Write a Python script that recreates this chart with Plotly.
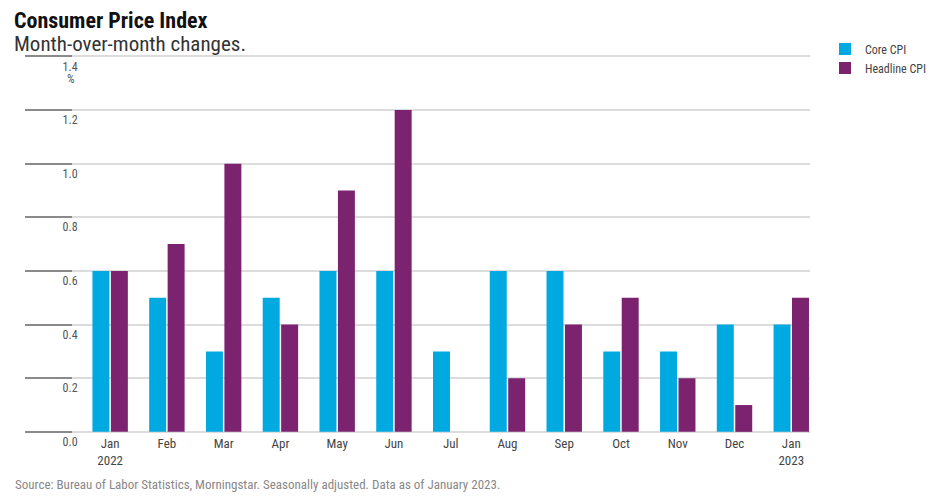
import plotly.graph_objects as go

months = ["Jan", "Feb", "Mar", "Apr", "May", "Jun", "Jul", "Aug", "Sep", "Oct", "Nov", "Dec", "Jan"]
month_labels = ["Jan<br>2022", "Feb", "Mar", "Apr", "May", "Jun", "Jul", "Aug", "Sep", "Oct", "Nov", "Dec", "Jan<br>2023"]
core_cpi = [0.6, 0.5, 0.3, 0.5, 0.6, 0.6, 0.3, 0.6, 0.6, 0.3, 0.3, 0.4, 0.4]
headline_cpi = [0.6, 0.7, 1.0, 0.4, 0.9, 1.2, 0.0, 0.2, 0.4, 0.5, 0.2, 0.1, 0.5]
y_ticks = [0.0, 0.2, 0.4, 0.6, 0.8, 1.0, 1.2, 1.4]
y_ticktext = ["0.0", "0.2", "0.4", "0.6", "0.8", "1.0", "1.2", "1.4"]
y_unit = "%"

FONT = "Liberation Sans Narrow, Roboto Condensed, Roboto, sans-serif"
# page body has an 8px margin; figure coords = window coords - 8
W, H = 918, 488
Y0, Y1 = -0.09, 1.42
scale = 376 / 1.4
L = 17
R = W - 802
T = 48 - (Y1 - 1.4) * scale
B = H - (424 + (0 - Y0) * scale)
pw = W - L - R
ph = H - T - B

def px_x(x):
    return (x - L) / pw

def px_y(y):
    return (H - B - y) / ph

x = list(range(len(months)))

fig = go.Figure()
fig.add_trace(go.Bar(x=x, y=core_cpi, name="Core CPI", marker_color="#00a9e0",
                     marker_line_width=0))
fig.add_trace(go.Bar(x=x, y=headline_cpi, name="Headline CPI", marker_color="#7c2370",
                     marker_line_width=0))

fig.update_layout(
    width=W, height=H,
    margin=dict(l=L, r=R, t=T, b=B, autoexpand=False),
    paper_bgcolor="white", plot_bgcolor="white",
    font=dict(family=FONT, color="#333333"),
    barmode="group", bargap=0.35, bargroupgap=0.08,
    showlegend=True,
    legend=dict(x=px_x(817), y=px_y(26), xanchor="left", yanchor="top",
                font=dict(size=12, color="#444444"), tracegroupgap=0,
                itemwidth=30, bgcolor="rgba(0,0,0,0)"),
    xaxis=dict(range=[-1.5, 12.33], tickmode="array", tickvals=x, ticktext=month_labels,
               showgrid=False, zeroline=False, showline=False, ticks="",
               automargin=False, ticklabelstandoff=-22,
               tickfont=dict(size=13, color="#444444"), fixedrange=True),
    yaxis=dict(range=[Y0, Y1], tickmode="array", tickvals=y_ticks, ticktext=y_ticktext,
               showgrid=True, gridcolor="#dcdcdc", gridwidth=1.5,
               zeroline=False, showline=False, automargin=False,
               ticks="inside", ticklen=47, tickwidth=1.5, tickcolor="#8a8a8a",
               ticklabelposition="inside", ticklabelstandoff=-10, ticklabelshift=10,
               tickfont=dict(size=12, color="#555555"), fixedrange=True),
    annotations=[
        dict(text="<b>Consumer Price Index</b>", xref="paper", yref="paper",
             x=px_x(5), y=px_y(-1), xanchor="left", yanchor="top", showarrow=False,
             borderpad=0, font=dict(size=22, color="#111111", family=FONT)),
        dict(text="Month-over-month changes.", xref="paper", yref="paper",
             x=px_x(5), y=px_y(23), xanchor="left", yanchor="top", showarrow=False,
             borderpad=0, font=dict(size=21, color="#333333", family=FONT)),
        dict(text="Source: Bureau of Labor Statistics, Morningstar. Seasonally adjusted. Data as of January 2023.",
             xref="paper", yref="paper",
             x=px_x(5), y=px_y(467), xanchor="left", yanchor="top", showarrow=False,
             font=dict(size=13, color="#888888", family=FONT)),
        dict(text=y_unit, xref="paper", yref="y", x=px_x(63), y=1.4, yshift=-23,
             xanchor="center", yanchor="middle", showarrow=False,
             font=dict(size=12, color="#555555", family=FONT)),
    ],
)

fig.write_html("out.html")
